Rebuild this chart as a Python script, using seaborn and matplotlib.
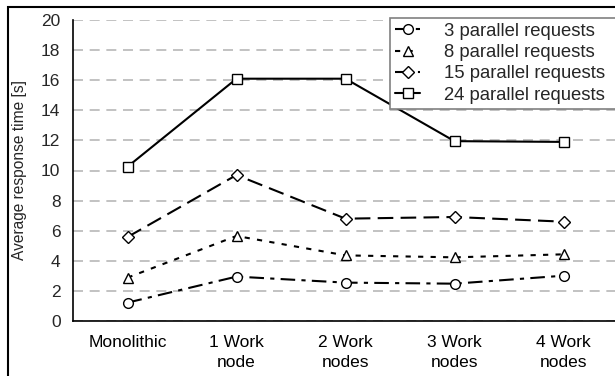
import pandas as pd
import matplotlib
matplotlib.use("Agg")
import matplotlib.pyplot as plt
import seaborn as sns
from matplotlib.patches import Rectangle

# setups on the x axis
setups = ["Monolithic", "1 Work\nnode", "2 Work\nnodes", "3 Work\nnodes", "4 Work\nnodes"]

# average response time [s] per number of parallel requests
req_3 = [1.22, 2.95, 2.55, 2.48, 3.01]
req_8 = [2.88, 5.65, 4.36, 4.23, 4.43]
req_15 = [5.58, 9.70, 6.80, 6.91, 6.60]
req_24 = [10.25, 16.1, 16.1, 11.95, 11.9]

series = ["3 parallel requests", "8 parallel requests", "15 parallel requests", "24 parallel requests"]

rows = []
for name, vals in zip(series, [req_3, req_8, req_15, req_24]):
    for s, v in zip(setups, vals):
        rows.append({"setup": s, "time": v, "series": name})
df = pd.DataFrame(rows)

sns.set_style("white")
plt.rcParams["font.family"] = ["Liberation Sans", "DejaVu Sans"]
plt.rcParams["font.size"] = 12.5

fig = plt.figure(figsize=(6.15, 3.76), dpi=100)
ax = fig.add_axes([73 / 615, 55 / 376, 545 / 615, 301 / 376])

markers = {series[0]: "o", series[1]: "^", series[2]: "D", series[3]: "s"}
sizes = {series[0]: 7, series[1]: 7, series[2]: 6, series[3]: 7.5}
dashes = {series[0]: (7, 3, 2, 3), series[1]: (2.5, 3.5), series[2]: (7.5, 3.5), series[3]: ""}

for name in series:
    sns.lineplot(data=df[df["series"] == name], x="setup", y="time", ax=ax,
                 color="black", lw=1.5, marker=markers[name], ms=sizes[name],
                 mfc="white", mec="black", mew=1.0, legend=False, sort=False,
                 zorder=3)
    line = ax.lines[-1]
    if dashes[name]:
        line.set_dashes(dashes[name])

ax.set_xlim(-0.5, 4.5)
ax.set_ylim(0, 20)
ax.set_yticks(range(0, 21, 2))
ax.set_xticks(range(len(setups)))
ax.set_xticklabels(setups, linespacing=1.45)
ax.set_xticks([i - 0.5 for i in range(len(setups) + 1)], minor=True)
ax.tick_params(axis="x", which="major", length=0, pad=10, colors="black")
ax.tick_params(axis="x", which="minor", length=5, width=1, direction="out", color="black")
ax.tick_params(axis="y", length=5, width=1, direction="out", color="black", pad=4)
for lab in ax.get_xticklabels():
    lab.set_multialignment("center")

ax.set_xlabel("")
ax.set_ylabel("Average response time [s]", fontsize=11.2, labelpad=10)

ax.yaxis.grid(True, color="#b8b8b8", linestyle=(0, (6, 4)), lw=1.2)
ax.set_axisbelow(True)
for side in ["top", "right"]:
    ax.spines[side].set_visible(False)
for side in ["left", "bottom"]:
    ax.spines[side].set_color("black")
    ax.spines[side].set_linewidth(1.2)

leg = ax.legend(ax.lines, series, loc="upper left", mode="expand", fontsize=13.3,
                bbox_to_anchor=(390 / 615, 1 - 18 / 376, 0.5, 0), bbox_transform=fig.transFigure,
                frameon=True, fancybox=False, framealpha=1, edgecolor="#808080",
                handlelength=1.4, handletextpad=1.3, labelspacing=0.24,
                borderpad=0.25, borderaxespad=0)
leg.get_frame().set_linewidth(1.2)

# outer frame of the chart area
fig.patches.append(Rectangle((8 / 615, -0.1), 1.2, 1 - 7 / 376 + 0.1, transform=fig.transFigure,
                             fill=False, edgecolor="black", lw=1.5))

fig.savefig("out.png", dpi=100)
